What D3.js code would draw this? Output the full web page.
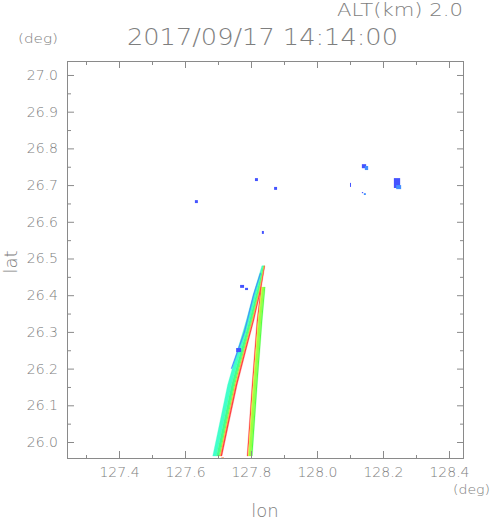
<!DOCTYPE html>
<html>
<head>
<meta charset="utf-8">
<script src="https://cdn.jsdelivr.net/npm/d3@7"></script>
<style>
  body { margin: 0; background: #fff; }
  text { font-family: "DejaVu Sans", sans-serif; font-weight: 200; fill: #7e7e7e; }
</style>
</head>
<body>
<div id="chart"></div>
<script>
// axis ticks
const lonTicks = [127.4, 127.6, 127.8, 128.0, 128.2, 128.4];
const lonMinor = [127.3, 127.5, 127.7, 127.9, 128.1, 128.3];
const latTicks = [26.0, 26.1, 26.2, 26.3, 26.4, 26.5, 26.6, 26.7, 26.8, 26.9, 27.0];
const latMinor = [26.05, 26.15, 26.25, 26.35, 26.45, 26.55, 26.65, 26.75, 26.85, 26.95];

// western echo strip (edges at given lat)
const stripALat  = [25.962, 26.060, 26.155, 26.250, 26.332, 26.414, 26.480];
const stripAWest = [127.684, 127.707, 127.729, 127.759, 127.786, 127.811, 127.833];
const stripAEast = [127.712, 127.735, 127.758, 127.785, 127.809, 127.830, 127.842];
const stripABands = [0, 0.4, 0.68, 0.78, 0.86, 1];
const stripAValues = [0.32, 0.4, 0.55, 0.82, 1.0];

// eastern echo strip
const stripBLat  = [25.962, 26.155, 26.332, 26.422];
const stripBWest = [127.788, 127.803, 127.818, 127.830];
const stripBEast = [127.804, 127.819, 127.834, 127.843];
const stripBBands = [0, 0.2, 0.32, 0.8, 1];
const stripBValues = [1.0, 0.78, 0.62, 0.52];

// weak edge on west side of strip A
const edgeLat  = [26.20, 26.30, 26.40, 26.46];
const edgeWest = [127.7395, 127.7785, 127.806, 127.8275];
const edgeEast = [127.7425, 127.7815, 127.809, 127.8300];
const edgeValue = 0.1;

// scattered cells
const blobLon0 = [127.630, 127.812, 127.870, 127.833, 128.100, 128.136, 128.145, 128.136, 128.142, 128.233, 128.240, 127.767, 127.782, 127.755, 127.710];
const blobLon1 = [127.639, 127.821, 127.879, 127.839, 128.103, 128.149, 128.155, 128.140, 128.148, 128.252, 128.255, 127.779, 127.791, 127.770, 127.718];
const blobLat0 = [26.651, 26.711, 26.687, 26.567, 26.695, 26.746, 26.741, 26.678, 26.673, 26.692, 26.689, 26.420, 26.414, 26.245, 25.955];
const blobLat1 = [26.659, 26.719, 26.695, 26.575, 26.706, 26.757, 26.752, 26.681, 26.678, 26.719, 26.700, 26.428, 26.420, 26.256, 25.958];
const blobVal  = [0.02, 0.02, 0.02, 0.02, 0.02, 0.02, 0.1, 0.02, 0.1, 0.02, 0.1, 0.02, 0.03, 0.02, 0.9];

const width = 491, height = 521;
const margin = {top: 61, right: 27, bottom: 62, left: 67};

const svg = d3.select("#chart").append("svg")
  .attr("width", width).attr("height", height);

const x = d3.scaleLinear().domain([127.2424, 128.4455]).range([margin.left, width - margin.right]);
const y = d3.scaleLinear().domain([25.9537, 27.0381]).range([height - margin.bottom, margin.top]);

const color = d3.scaleLinear()
  .domain([0, 0.25, 0.5, 0.75, 1])
  .range(["#4444ff", "#40ffff", "#44ff44", "#ffff40", "#ff4040"]);

const plot = svg.append("g");

function drawStrip(lats, west, east, bands, values) {
  for (let b = 0; b < values.length; b++) {
    const f0 = bands[b], f1 = bands[b + 1];
    const left = lats.map((la, i) => [x(west[i] + (east[i] - west[i]) * f0), y(la)]);
    const right = lats.map((la, i) => [x(west[i] + (east[i] - west[i]) * f1), y(la)]).reverse();
    plot.append("path")
      .attr("d", d3.line()(left.concat(right)) + "Z")
      .attr("fill", color(values[b]))
      .attr("stroke", color(values[b]))
      .attr("stroke-width", 0.3);
  }
}

drawStrip(stripALat, stripAWest, stripAEast, stripABands, stripAValues);
drawStrip(stripBLat, stripBWest, stripBEast, stripBBands, stripBValues);
drawStrip(edgeLat, edgeWest, edgeEast, [0, 1], [edgeValue]);

plot.selectAll("rect.blob")
  .data(blobVal.map((v, i) => ({lon0: blobLon0[i], lon1: blobLon1[i], lat0: blobLat0[i], lat1: blobLat1[i], v: v})))
  .enter().append("rect")
  .attr("class", "blob")
  .attr("x", d => x(d.lon0))
  .attr("y", d => y(d.lat1))
  .attr("width", d => x(d.lon1) - x(d.lon0))
  .attr("height", d => y(d.lat0) - y(d.lat1))
  .attr("fill", d => color(d.v));

// frame
svg.append("rect")
  .attr("x", margin.left + 0.5).attr("y", margin.top + 0.5)
  .attr("width", width - margin.left - margin.right - 1)
  .attr("height", height - margin.top - margin.bottom - 1)
  .attr("fill", "none").attr("stroke", "#8a8a8a");

function styleAxis(g) {
  g.select(".domain").remove();
  g.selectAll("line").attr("stroke", "#8a8a8a");
  g.selectAll("text").attr("font-size", 14).attr("font-family", null).attr("fill", null);
}

const yb = height - margin.bottom, yt = margin.top;
const xl = margin.left, xr = width - margin.right;

svg.append("g").attr("transform", `translate(0,${yb})`)
  .call(d3.axisBottom(x).tickValues(lonTicks).tickSize(-8).tickPadding(8).tickFormat(d3.format(".1f")))
  .call(styleAxis);
svg.append("g").attr("transform", `translate(0,${yb})`)
  .call(d3.axisBottom(x).tickValues(lonMinor).tickSize(-4).tickFormat(""))
  .call(styleAxis);
svg.append("g").attr("transform", `translate(0,${yt})`)
  .call(d3.axisTop(x).tickValues(lonTicks).tickSize(-7).tickFormat(""))
  .call(styleAxis);
svg.append("g").attr("transform", `translate(0,${yt})`)
  .call(d3.axisTop(x).tickValues(lonMinor).tickSize(-4).tickFormat(""))
  .call(styleAxis);

svg.append("g").attr("transform", `translate(${xl},0)`)
  .call(d3.axisLeft(y).tickValues(latTicks).tickSize(-7).tickPadding(9).tickFormat(d3.format(".1f")))
  .call(styleAxis);
svg.append("g").attr("transform", `translate(${xl},0)`)
  .call(d3.axisLeft(y).tickValues(latMinor).tickSize(-4).tickFormat(""))
  .call(styleAxis);
svg.append("g").attr("transform", `translate(${xr},0)`)
  .call(d3.axisRight(y).tickValues(latTicks).tickSize(-7).tickFormat(""))
  .call(styleAxis);
svg.append("g").attr("transform", `translate(${xr},0)`)
  .call(d3.axisRight(y).tickValues(latMinor).tickSize(-4).tickFormat(""))
  .call(styleAxis);

// titles and labels
svg.append("text").attr("x", 463).attr("y", 16).attr("text-anchor", "end")
  .attr("font-size", 17).attr("textLength", 126).attr("lengthAdjust", "spacingAndGlyphs")
  .text("ALT(km) 2.0");
svg.append("text").attr("x", 127).attr("y", 45)
  .attr("font-size", 23).attr("textLength", 271).attr("lengthAdjust", "spacingAndGlyphs")
  .text("2017/09/17 14:14:00");
svg.append("text").attr("x", 18).attr("y", 43)
  .attr("font-size", 13).attr("textLength", 40).attr("lengthAdjust", "spacingAndGlyphs")
  .text("(deg)");
svg.append("text").attr("x", 453).attr("y", 494)
  .attr("font-size", 13).attr("textLength", 37).attr("lengthAdjust", "spacingAndGlyphs")
  .text("(deg)");
svg.append("text").attr("x", 265).attr("y", 517).attr("text-anchor", "middle")
  .attr("font-size", 18)
  .text("lon");
svg.append("text").attr("transform", "translate(17,262) rotate(-90)").attr("text-anchor", "middle")
  .attr("font-size", 18)
  .text("lat");
</script>
</body>
</html>
